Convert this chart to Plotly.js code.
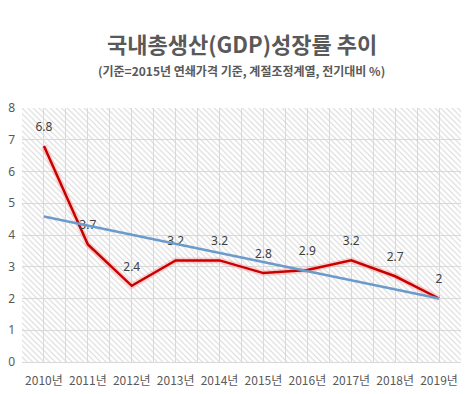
<!DOCTYPE html>
<html><head><meta charset="utf-8">
<script src="https://cdn.plot.ly/plotly-3.0.1.min.js"></script>
<style>body{margin:0;background:#fff}#c{width:472px;height:394px}</style>
</head><body><div id="c"></div>
<script>
var years = ["2010년","2011년","2012년","2013년","2014년","2015년","2016년","2017년","2018년","2019년"];
var growth = [6.8, 3.7, 2.4, 3.2, 3.2, 2.8, 2.9, 3.2, 2.7, 2];
var trendYears = ["2010년","2019년"];
var trendValues = [4.58, 2.0];
var yTicks = [0,1,2,3,4,5,6,7,8];

var idx = years.map(function(_, i){ return i; });
var trendIdx = trendYears.map(function(y){ return years.indexOf(y); });

var bg = {
  x: [-0.5, years.length - 0.5], y: [8, 8], mode: 'none', fill: 'tozeroy',
  fillcolor: 'rgba(0,0,0,0)',
  fillpattern: {shape: '\\', fgcolor: '#d6d6d6', bgcolor: 'rgba(255,255,255,0)', size: 4, solidity: 0.25},
  hoverinfo: 'skip', showlegend: false
};
var glow = {
  x: idx, y: growth, mode: 'lines',
  line: {color: 'rgba(255,120,120,0.3)', width: 6}, showlegend: false, hoverinfo: 'skip'
};
var line = {
  x: idx, y: growth, mode: 'lines+markers+text', text: growth.map(String),
  textposition: 'top center', textfont: {family: 'Noto Sans, sans-serif', size: 12, color: '#404040'},
  marker: {size: 18, color: 'rgba(0,0,0,0)'},
  line: {color: '#c80000', width: 2.5}, showlegend: false, cliponaxis: false
};
var trend = {
  x: trendIdx, y: trendValues, mode: 'lines',
  line: {color: '#6b9bca', width: 2.5}, showlegend: false
};

var layout = {
  width: 472, height: 394,
  margin: {l: 22, r: 11, t: 108, b: 32},
  paper_bgcolor: '#fff', plot_bgcolor: '#fff',
  font: {family: 'Noto Sans CJK KR, Noto Sans, sans-serif', color: '#595959'},
  annotations: [
    {text: '<b>국내총생산(GDP)성장률 추이</b>', xref: 'paper', yref: 'paper', x: 0.5, y: 1, yshift: 65,
     showarrow: false, xanchor: 'center', yanchor: 'middle',
     font: {family: 'Noto Sans CJK KR, sans-serif', size: 22, color: '#595959'}},
    {text: '<b>(기준=2015년 연쇄가격 기준, 계절조정계열, 전기대비 %)</b>', xref: 'paper', yref: 'paper', x: 0.5, y: 1, yshift: 38,
     showarrow: false, xanchor: 'center', yanchor: 'middle',
     font: {family: 'Noto Sans CJK KR, sans-serif', size: 12, color: '#595959'}}
  ],
  xaxis: {
    range: [-0.5, years.length - 0.5], tickvals: idx, ticktext: years,
    showgrid: true, gridcolor: '#d9d9d9', gridwidth: 1,
    minor: {tick0: -0.5, dtick: 1, showgrid: true, gridcolor: '#d9d9d9', gridwidth: 1},
    zeroline: false, showline: true, linecolor: '#d9d9d9', ticks: '',
    tickfont: {size: 12, color: '#595959', family: 'Noto Sans CJK KR, sans-serif'}, ticklabelstandoff: 8,
    fixedrange: true
  },
  yaxis: {
    range: [0, 8], tickvals: yTicks, showgrid: true, gridcolor: '#d9d9d9', gridwidth: 1,
    zeroline: false, showline: false, ticks: '',
    tickfont: {size: 12, color: '#595959', family: 'Noto Sans, sans-serif'}, ticklabelstandoff: 6,
    fixedrange: true
  }
};
Plotly.newPlot('c', [bg, glow, line, trend], layout, {displayModeBar: false, staticPlot: true});
</script></body></html>
